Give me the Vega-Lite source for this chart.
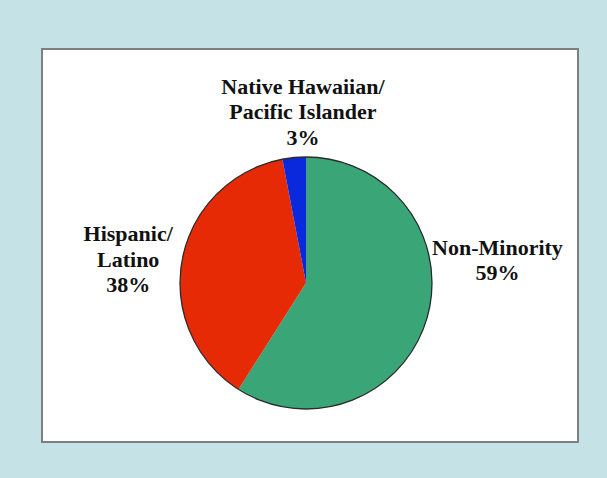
{
  "$schema": "https://vega.github.io/schema/vega-lite/v6.json",
  "width": 607,
  "height": 478,
  "autosize": {"type": "fit", "contains": "padding"},
  "padding": {"left": 42, "top": 49, "right": 29, "bottom": 36},
  "background": "#c5e3e6",
  "view": {"fill": "white", "stroke": "#7f7f7f", "strokeWidth": 2},
  "config": {"view": {"fill": "white", "stroke": "#7f7f7f", "strokeWidth": 2}},
  "data": {
    "values": [
      {"group": "Non-Minority", "label": "Non-Minority", "share": 59, "order": 1},
      {"group": "Hispanic/Latino", "label": "Hispanic/\nLatino", "share": 38, "order": 2},
      {"group": "Native Hawaiian/Pacific Islander", "label": "Native Hawaiian/\nPacific Islander", "share": 3, "order": 3}
    ]
  },
  "transform": [{"calculate": "datum.label + '\\n' + datum.share + '%'", "as": "txt"}],
  "layer": [
    {
      "mark": {"type": "arc", "outerRadius": 126, "xOffset": -4, "yOffset": 37.5},
      "encoding": {
        "theta": {"field": "share", "type": "quantitative", "stack": true},
        "order": {"field": "order"},
        "color": {
          "field": "group",
          "type": "nominal",
          "scale": {
            "domain": ["Non-Minority", "Hispanic/Latino", "Native Hawaiian/Pacific Islander"],
            "range": ["#3aa678", "#e62a06", "#0b29dc"]
          },
          "legend": null
        }
      }
    },
    {
      "mark": {"type": "arc", "outerRadius": 126, "xOffset": -4, "yOffset": 37.5, "fill": null, "filled": false, "stroke": "#2b2b2b", "strokeWidth": 1.3},
      "encoding": {
        "theta": {"field": "share", "type": "quantitative", "stack": true, "aggregate": "sum"}
      }
    },
    {
      "mark": {"type": "text", "radius": 180, "dx": 14.6, "dy": -47.95, "font": "Liberation Serif", "fontWeight": "bold", "fontSize": 22, "lineBreak": "\n", "lineHeight": 25.5, "align": "center", "baseline": "middle", "color": "#111111"},
      "encoding": {
        "theta": {"field": "share", "type": "quantitative", "stack": true},
        "order": {"field": "order"},
        "text": {"condition": {"test": "datum.group === 'Non-Minority'", "field": "txt"}, "value": ""}
      }
    },
    {
      "mark": {"type": "text", "radius": 180, "dx": -5, "dy": 22.7, "font": "Liberation Serif", "fontWeight": "bold", "fontSize": 22, "lineBreak": "\n", "lineHeight": 25.5, "align": "center", "baseline": "middle", "color": "#111111"},
      "encoding": {
        "theta": {"field": "share", "type": "quantitative", "stack": true},
        "order": {"field": "order"},
        "text": {"condition": {"test": "datum.group === 'Hispanic/Latino'", "field": "txt"}, "value": ""}
      }
    },
    {
      "mark": {"type": "text", "radius": 171, "dx": 9, "dy": 11.3, "font": "Liberation Serif", "fontWeight": "bold", "fontSize": 22, "lineBreak": "\n", "lineHeight": 25.5, "align": "center", "baseline": "middle", "color": "#111111"},
      "encoding": {
        "theta": {"field": "share", "type": "quantitative", "stack": true},
        "order": {"field": "order"},
        "text": {"condition": {"test": "datum.group === 'Native Hawaiian/Pacific Islander'", "field": "txt"}, "value": ""}
      }
    }
  ]
}
